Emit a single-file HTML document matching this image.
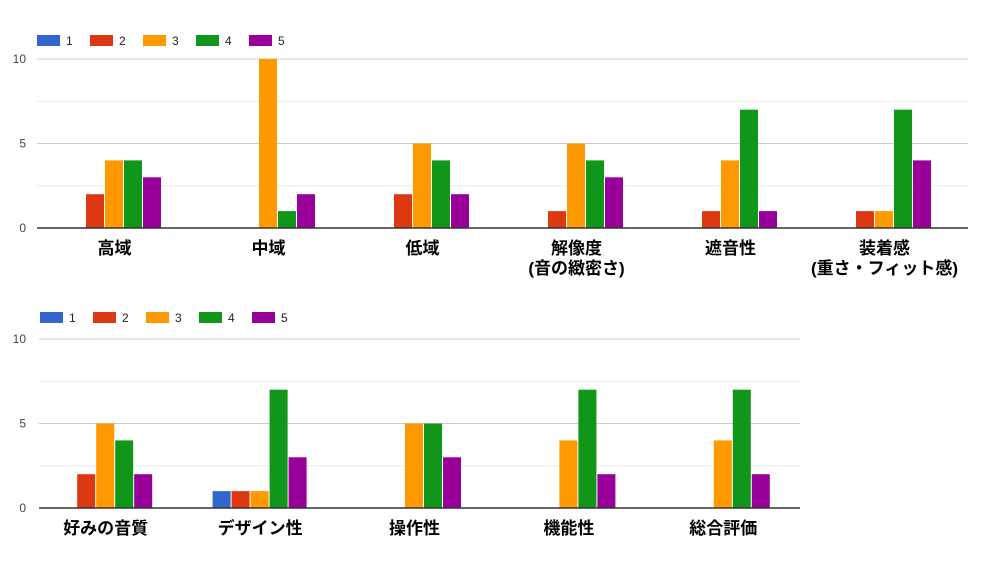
<!DOCTYPE html>
<html><head><meta charset="utf-8"><style>
body{margin:0;background:#fff;width:1000px;height:564px;overflow:hidden}
svg text{font-family:"Liberation Sans","Noto Sans CJK JP",sans-serif}
</style></head><body>
<svg id="s" width="1000" height="564"></svg>
<script>
const seriesNames=["1","2","3","4","5"];
const colors=["#3366cc","#dc3912","#ff9900","#109618","#990099"];
const yTicks=[0,5,10];
const topCategories=[["高域"],["中域"],["低域"],["解像度","(音の緻密さ)"],["遮音性"],["装着感","(重さ・フィット感)"]];
const topValues=[[0,2,4,4,3],[0,0,10,1,2],[0,2,5,4,2],[0,1,5,4,3],[0,1,4,7,1],[0,1,1,7,4]];
const bottomCategories=[["好みの音質"],["デザイン性"],["操作性"],["機能性"],["総合評価"]];
const bottomValues=[[0,2,5,4,2],[1,1,1,7,3],[0,0,5,5,3],[0,0,4,7,2],[0,0,4,7,2]];
const NS="http://www.w3.org/2000/svg";
const svg=document.getElementById('s');
function mk(t,a,p){const e=document.createElementNS(NS,t);for(const k in a)e.setAttribute(k,a[k]);(p||svg).appendChild(e);return e;}
function chart(name,cats,vals,o){
  const g=mk('g',{});
  
  
  const y=v=>o.base-(o.base-o.top)*v/10;
  // legend
  seriesNames.forEach((n,i)=>{
    const lg=mk('g',{},g);
    
    
    mk('rect',{x:o.legX+i*53,y:o.legY,width:23,height:11,fill:colors[i]},lg);
    const t=mk('text',{x:o.legX+i*53+29,y:o.legY+10,'font-size':12,fill:'#222'},lg);t.textContent=n;
  });
  // grid
  [2.5,5,7.5,10].forEach(v=>{
    const l=mk('line',{x1:o.gx1,x2:o.gx2,y1:y(v),y2:y(v),stroke:(v%5==0)?'#ccc':'#ebebeb','stroke-width':1},g);
    
    
  });
  yTicks.forEach(v=>{
    const t=mk('text',{x:26,y:y(v)+4,'font-size':12,fill:'#444','text-anchor':'end'},g);
    
    
    t.textContent=v;
  });
  const bw=(o.x1-o.x0)/cats.length;
  cats.forEach((c,ci)=>{
    const cx=o.x0+bw*(ci+0.5);
    vals[ci].forEach((v,si)=>{
      if(v<=0)return;
      const bx=cx-47.5+si*19;
      const r=mk('rect',{x:bx,y:y(v),width:18,height:o.base-y(v),fill:colors[si]},g);
      
      
    });
    c.forEach((line,li)=>{
      const t=mk('text',{x:cx,y:o.base+26+li*20,'font-size':17,'font-weight':'bold',fill:'#000','text-anchor':'middle'},g);
      
      
      t.textContent=line;
    });
  });
  const b=mk('line',{x1:o.gx1,x2:o.gx2,y1:o.base,y2:o.base,stroke:'#333','stroke-width':1.5},g);
  
  
}
chart('top-chart',topCategories,topValues,{base:228,top:59,x0:37.5,x1:961.5,gx1:37,gx2:968,legX:37,legY:35});
chart('bottom-chart',bottomCategories,bottomValues,{base:508,top:339,x0:28.5,x1:800.5,gx1:39,gx2:800,legX:40,legY:312});
</script>
</body></html>
